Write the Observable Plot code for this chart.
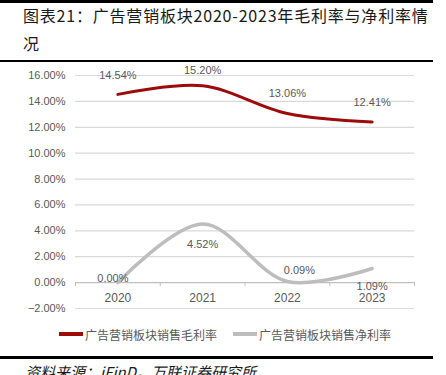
<!DOCTYPE html>
<html>
<head>
<meta charset="utf-8">
<script src="https://cdn.jsdelivr.net/npm/d3@7"></script>
<script src="https://cdn.jsdelivr.net/npm/@observablehq/plot@0.6"></script>
<style>
  html, body { margin: 0; padding: 0; background: #fff; width: 446px; height: 375px; overflow: hidden; }
  #page { position: relative; width: 446px; height: 375px; }
  .rule { position: absolute; left: 0; width: 433px; background: #000; }
  #title { position: absolute; left: 23px; top: 1px; white-space: nowrap; font-family: "Noto Sans CJK SC", sans-serif; font-size: 16px; letter-spacing: 0.8px; line-height: 28px; color: #1a1a1a; }
  #chart { position: absolute; left: 0; top: 60px; }
  #legend { position: absolute; top: 325px; left: 0; width: 446px; height: 18px; font-family: "Noto Sans CJK SC", sans-serif; font-size: 12px; color: #595959; }
  .item { position: absolute; top: 0; display: flex; align-items: center; height: 18px; }
  .sw { display: inline-block; width: 24px; height: 3.5px; margin-right: 2px; }
  #source { position: absolute; left: 25px; top: 361px; font-family: "Noto Sans CJK SC", sans-serif; font-size: 15px; font-style: italic; color: #1a1a1a; white-space: nowrap; }
</style>
</head>
<body>
<div id="page">
  <div class="rule" style="top:0;height:3px;"></div>
  <div id="title">图表21：广告营销板块2020-2023年毛利率与净利率情<br>况</div>
  <div class="rule" style="top:60px;height:2px;"></div>
  <div id="chart"></div>
  <div id="legend"></div>
  <div class="rule" style="top:356px;height:3px;"></div>
  <div id="source">资料来源：iFinD，万联证券研究所</div>
</div>
<script>
const years = [2020, 2021, 2022, 2023];
const grossMargin = [14.54, 15.20, 13.06, 12.41];
const netMargin = [0.00, 4.52, 0.09, 1.09];
const seriesNames = ["广告营销板块销售毛利率", "广告营销板块销售净利率"];
const yTicks = [-2, 0, 2, 4, 6, 8, 10, 12, 14, 16];

const colors = ["#9c0a0a", "#bdbdbd"];
const gross = years.map((y, i) => ({year: y, value: grossMargin[i]}));
const net = years.map((y, i) => ({year: y, value: netMargin[i]}));
const bounds = [years[0] - 0.5, ...years.map(y => y + 0.5)];
const pct = d => d3.format(".2f")(d) + "%";

function label(data, i, dx, dy) {
  return Plot.text([data[i]], {x: "year", y: "value", text: d => pct(d.value), dx, dy, fill: "#595959", fontSize: 11});
}

const chart = Plot.plot({
  width: 446,
  height: 260,
  marginTop: 15,
  marginBottom: 12,
  marginLeft: 75,
  marginRight: 32,
  style: {fontFamily: "Liberation Sans, Arial, sans-serif", fontSize: "11px", color: "#595959", background: "transparent"},
  x: {domain: [years[0] - 0.5, years[years.length - 1] + 0.5], axis: null},
  y: {domain: [-2, 16], axis: null},
  marks: [
    Plot.ruleY(yTicks.filter(t => t !== 0), {stroke: "#d9d9d9", strokeWidth: 1.2}),
    Plot.axisY(yTicks, {tickSize: 0, tickPadding: 10, tickFormat: pct, fill: "#595959", fontSize: 11, label: null}),
    Plot.ruleY([0], {stroke: "#bfbfbf", strokeWidth: 1.2}),
    Plot.ruleX(bounds, {y1: 0, y2: -0.3, stroke: "#bfbfbf", strokeWidth: 1}),
    Plot.text(years, {x: d => d, y: () => 0, text: d => String(d), dy: 16, fill: "#595959", fontSize: 12}),
    Plot.line(gross, {x: "year", y: "value", stroke: colors[0], strokeWidth: 3, curve: "catmull-rom"}),
    Plot.line(net, {x: "year", y: "value", stroke: colors[1], strokeWidth: 3.5, curve: "catmull-rom"}),
    label(gross, 0, 0, -19),
    label(gross, 1, 0, -15),
    label(gross, 2, 0, -20),
    label(gross, 3, 0, -20),
    label(net, 0, -5, -4),
    label(net, 1, 0, 20),
    label(net, 2, 12, -11),
    label(net, 3, 0, 18)
  ]
});
document.getElementById("chart").appendChild(chart);

const legend = document.getElementById("legend");
const lefts = [59, 233];
seriesNames.forEach((name, i) => {
  const item = document.createElement("div");
  item.className = "item";
  item.style.left = lefts[i] + "px";
  const sw = document.createElement("span");
  sw.className = "sw";
  sw.style.background = colors[i];
  item.appendChild(sw);
  item.appendChild(document.createTextNode(name));
  legend.appendChild(item);
});
</script>
</body>
</html>
